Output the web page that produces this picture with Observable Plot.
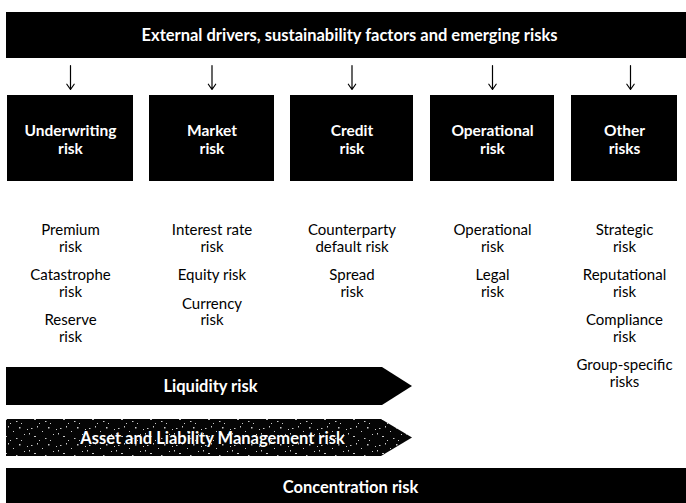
<!DOCTYPE html>
<html>
<head>
<meta charset="utf-8">
<script src="https://cdn.jsdelivr.net/npm/d3@7"></script>
<script src="https://cdn.jsdelivr.net/npm/@observablehq/plot@0.6"></script>
<style>
  html, body { margin: 0; padding: 0; background: #fff; }
  #chart svg { display: block; }
</style>
</head>
<body>
<div id="chart"></div>
<script>
// ---- content ----
const headline = "External drivers, sustainability factors and emerging risks";
const categories = ["Underwriting\nrisk", "Market\nrisk", "Credit\nrisk", "Operational\nrisk", "Other\nrisks"];
const underwritingRisks = ["Premium\nrisk", "Catastrophe\nrisk", "Reserve\nrisk"];
const marketRisks = ["Interest rate\nrisk", "Equity risk", "Currency\nrisk"];
const creditRisks = ["Counterparty\ndefault risk", "Spread\nrisk"];
const operationalRisks = ["Operational\nrisk", "Legal\nrisk"];
const otherRisks = ["Strategic\nrisk", "Reputational\nrisk", "Compliance\nrisk", "Group-specific\nrisks"];
const crossRisks = ["Liquidity risk", "Asset and Liability Management risk", "Concentration risk"];

const subRisks = [underwritingRisks, marketRisks, creditRisks, operationalRisks, otherRisks];

// ---- layout (positions computed here, not in data) ----
const W = 686, H = 503;
const boxEdges = [[7, 133], [149, 274], [290, 413], [430, 554], [571, 677]];
const boxes = categories.map((c, i) => ({label: c, x1: boxEdges[i][0], x2: boxEdges[i][1], cx: (boxEdges[i][0] + boxEdges[i][1]) / 2}));

const lineH = 16.5, groupGap = 12, firstLine = 230;
const subLines = [];
subRisks.forEach((list, i) => {
  let y = firstLine;
  list.forEach(item => {
    const lines = item.split("\n");
    lines.forEach((t, k) => subLines.push({x: boxes[i].cx, y: y + k * lineH, text: t}));
    y += lines.length * lineH + groupGap;
  });
});

const liq = [{x: 6, t: 367, b: 405}, {x: 382, t: 367, b: 405}, {x: 412, t: 386, b: 386}];
const alm = [{x: 6, t: 419, b: 456}, {x: 381, t: 419, b: 456}, {x: 412, t: 437.5, b: 437.5}];
const conc = [{x1: 6, x2: W, y1: 468, y2: H}];
const banner = [{x1: 6, x2: W, y1: 12, y2: 58}];
const arrows = boxes.map((b, i) => ({x: b.cx + (i === 4 ? 6 : 0), y1: 65, y2: 89}));
const barLabels = [
  {text: crossRisks[0], x: 210, y: 386},
  {text: crossRisks[1], x: 212, y: 438},
  {text: crossRisks[2], x: 350, y: 487}
];

const FONT = "Lato, 'Open Sans', sans-serif";

const chart = Plot.plot({
  width: W, height: H, margin: 0,
  x: {domain: [0, W], range: [0, W], axis: null},
  y: {domain: [0, H], range: [0, H], axis: null},
  style: {background: "#fff", fontFamily: FONT},
  marks: [
    Plot.rect(banner, {x1: "x1", x2: "x2", y1: "y1", y2: "y2", fill: "#000"}),
    Plot.text([headline], {x: 349, y: 35, text: d => d, fill: "#fff", fontSize: 16.5, fontWeight: "bold", fontFamily: FONT}),
    Plot.arrow(arrows, {x1: "x", x2: "x", y1: "y1", y2: "y2", stroke: "#000", strokeWidth: 1.2, headLength: 8, headAngle: 70}),
    Plot.rect(boxes, {x1: "x1", x2: "x2", y1: () => 95, y2: () => 181, fill: "#000"}),
    Plot.text(boxes, {x: "cx", y: () => 139, text: "label", fill: "#fff", fontSize: 15.5, fontWeight: "bold", lineHeight: 1.12, fontFamily: FONT}),
    Plot.text(subLines, {x: "x", y: "y", text: "text", fill: "#000", fontSize: 15, fontFamily: FONT}),
    Plot.areaY(liq, {x: "x", y1: "t", y2: "b", fill: "#000", curve: "linear"}),
    Plot.areaY(alm, {x: "x", y1: "t", y2: "b", fill: "url(#speckle)", curve: "linear"}),
    Plot.rect(conc, {x1: "x1", x2: "x2", y1: "y1", y2: "y2", fill: "#000"}),
    Plot.text(barLabels, {x: "x", y: "y", text: "text", fill: "#fff", fontSize: 16.5, fontWeight: "bold", fontFamily: FONT, stroke: "#000", strokeWidth: 0.5})
  ]
});

// speckled texture for the ALM arrow
const ns = "http://www.w3.org/2000/svg";
const defs = document.createElementNS(ns, "defs");
const pat = document.createElementNS(ns, "pattern");
pat.setAttribute("id", "speckle");
pat.setAttribute("patternUnits", "userSpaceOnUse");
pat.setAttribute("width", "29");
pat.setAttribute("height", "17");
const bg = document.createElementNS(ns, "rect");
bg.setAttribute("width", "29"); bg.setAttribute("height", "17"); bg.setAttribute("fill", "#050505");
pat.appendChild(bg);
[[2, 3, 1.5, 1], [8, 1, 1, 1.5], [5, 11, 2, 1], [13, 6, 1, 1], [19, 2, 1.5, 1.5], [24, 9, 1, 1],
 [16, 13, 1.5, 1], [27, 4, 1, 1], [10, 15, 1, 1], [21, 15, 1, 1], [0, 8, 1, 1.5]].forEach(([x, y, w, h]) => {
  const r = document.createElementNS(ns, "rect");
  r.setAttribute("x", x); r.setAttribute("y", y); r.setAttribute("width", w); r.setAttribute("height", h);
  r.setAttribute("fill", "#ccc");
  pat.appendChild(r);
});
defs.appendChild(pat);
chart.insertBefore(defs, chart.firstChild);

document.getElementById("chart").appendChild(chart);
</script>
</body>
</html>
